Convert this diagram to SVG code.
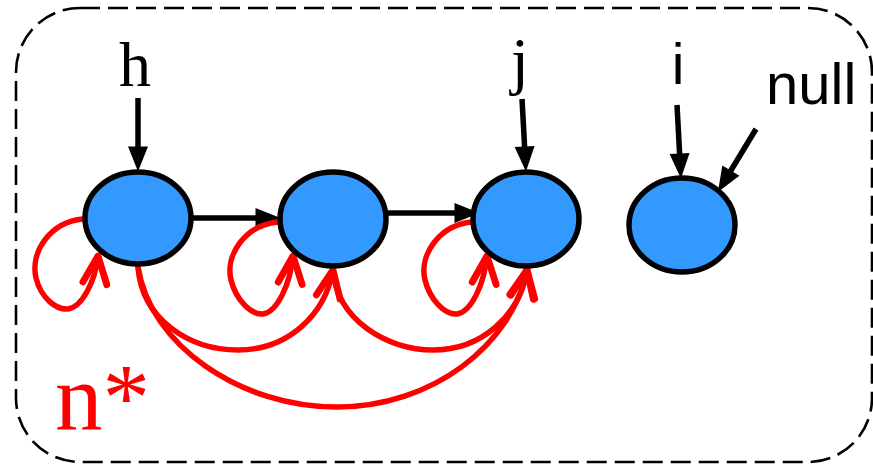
<svg xmlns="http://www.w3.org/2000/svg" width="873" height="466" viewBox="0 0 873 466">
  <style>
    .frame { fill: none; stroke: #000; stroke-width: 2.6; stroke-dasharray: 20 8; }
    .node { fill: #3399ff; stroke: #000; stroke-width: 5.5; }
    .ptr { fill: none; stroke: #000; stroke-width: 5.5; marker-end: url(#solid); }
    .rel { fill: none; stroke: #ff0000; stroke-width: 5.5; stroke-linecap: round; marker-end: url(#open); }
    .serif { font-family: "Liberation Serif", "Times New Roman", serif; }
    .sans { font-family: "Liberation Sans", Arial, sans-serif; }
  </style>
  <defs>
    <marker id="solid" markerUnits="userSpaceOnUse" markerWidth="30" markerHeight="30" viewBox="-2 -10 24 20" refX="6" refY="0" orient="auto" overflow="visible">
      <path d="M0,-8 L20,0 L0,8 Z" fill="#000"/>
    </marker>
    <marker id="open" markerUnits="userSpaceOnUse" markerWidth="40" markerHeight="40" viewBox="-30 -15 35 30" refX="0" refY="0" orient="auto" overflow="visible">
      <path d="M-24,-10.5 L0,0 L-24,10.5" fill="none" stroke="#ff0000" stroke-width="6" stroke-linecap="round" stroke-linejoin="round"/>
    </marker>
  </defs>

  <!-- heap region -->
  <rect class="frame" x="16" y="8" width="856" height="454" rx="64" ry="64"/>

  <!-- variable labels -->
  <text class="serif" x="135" y="86" font-size="64" text-anchor="middle">h</text>
  <text class="serif" x="520" y="82" font-size="64" text-anchor="middle">j</text>
  <text class="sans" x="678" y="84" font-size="57" text-anchor="middle">i</text>
  <text class="sans" x="766" y="104" font-size="58">null</text>
  <text class="serif" x="55" y="430" font-size="95" fill="#ff0000">n*</text>

  <!-- connectors -->
  <g id="edges">
    <!-- pointer variables -->
    <path class="ptr" d="M138,98 L138,154"/>
    <path class="ptr" d="M522,99 L525,154"/>
    <path class="ptr" d="M677,105 L680,161"/>
    <path class="ptr" d="M756,129 L727,177"/>
    <!-- next fields -->
    <path class="ptr" d="M193,218 L263,218"/>
    <path class="ptr" d="M388,213 L462,213"/>
    <!-- reflexive n* -->
    <path class="rel" d="M83,219 C50,222 30,252 36,278 C41,298 56,310 68,309 C82,307 95,282 98,256"/>
    <path class="rel" d="M278,222 C245,225 225,255 231,280 C236,300 251,315 263,314 C277,312 290,285 293,256"/>
    <path class="rel" d="M472,222 C439,225 419,255 425,280 C430,300 445,315 457,314 C471,312 484,285 487,256"/>
    <!-- transitive n* -->
    <path class="rel" d="M138,267 C142,320 190,350 238,350 C288,350 325,315 333,270"/>
    <path class="rel" d="M333,270 C337,320 387,350 433,350 C482,350 520,315 527,270"/>
    <path class="rel" d="M138,267 C150,345 240,407 337,407 C432,407 512,345 527,270"/>
  </g>

  <!-- list cells -->
  <g id="n1"><ellipse class="node" cx="138" cy="218" rx="53" ry="46"/></g>
  <g id="n2"><ellipse class="node" cx="333" cy="219" rx="53" ry="47"/></g>
  <g id="n3"><ellipse class="node" cx="526" cy="219" rx="53" ry="47"/></g>
  <g id="n4"><ellipse class="node" cx="682" cy="225" rx="53" ry="47"/></g>
</svg>
